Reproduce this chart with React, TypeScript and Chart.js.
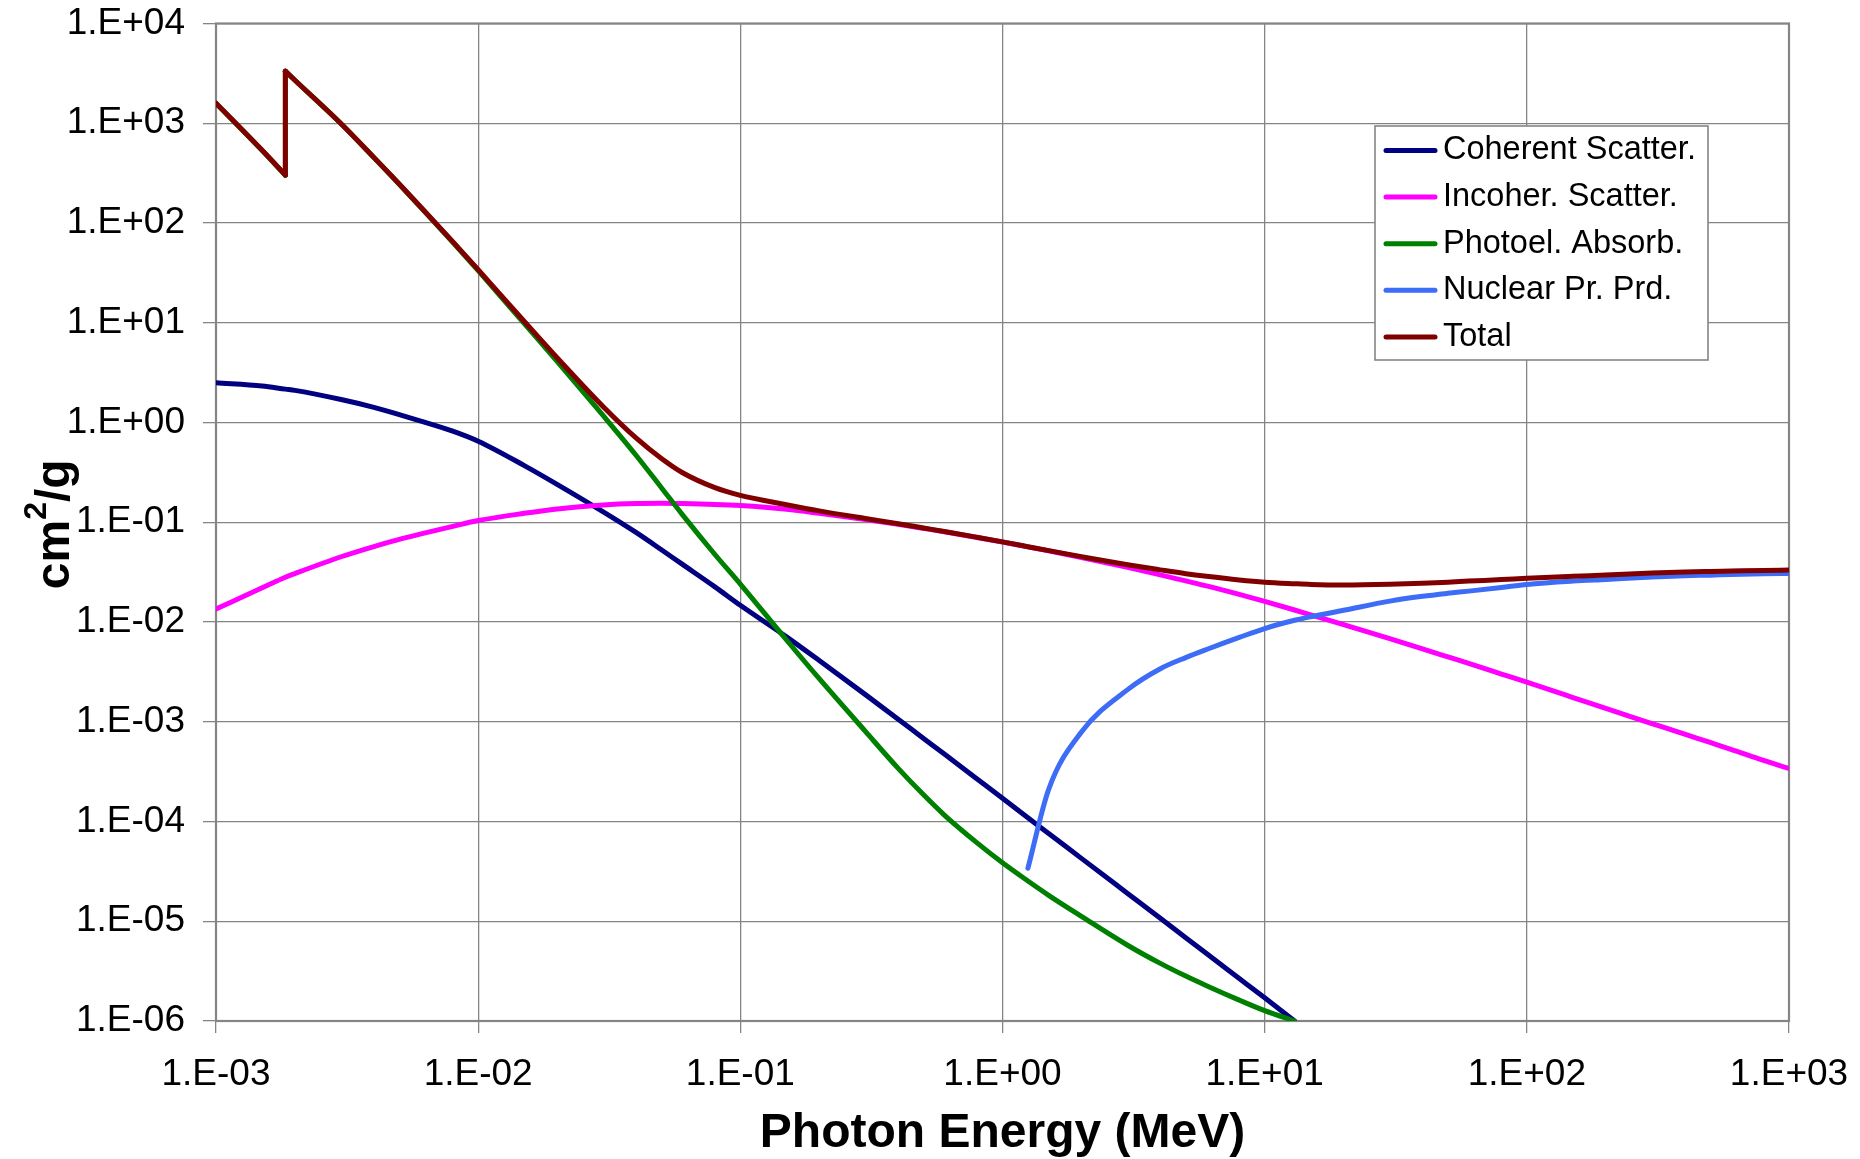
import React, { useEffect, useRef } from 'react';
import { Chart, registerables } from 'chart.js';

Chart.register(...registerables);

// Photon energy grid (MeV)
const energyMeV = [
  1e-3, 1.5e-3, 1.839e-3, 1.839e-3, 2e-3, 3e-3, 4e-3, 5e-3, 6e-3, 8e-3,
  1e-2, 1.5e-2, 2e-2, 3e-2, 4e-2, 5e-2, 6e-2, 8e-2,
  0.1, 0.15, 0.2, 0.3, 0.4, 0.5, 0.6, 0.8,
  1, 1.25, 1.5, 2, 3, 4, 5, 6, 8, 10, 13, 15, 20, 30, 40, 50, 60, 80,
  100, 150, 200, 300, 400, 500, 600, 800, 1000,
];

const coherentScatter = [
  2.5, 2.32, 2.16, 2.16, 2.1, 1.7, 1.42, 1.2, 1.04, 0.82,
  0.65, 0.37, 0.24, 0.127, 0.079, 0.053, 0.038, 0.0225,
  0.0147, 0.0071, 0.00411, 0.00187, 0.00106, 0.00068, 0.000474, 0.000267,
  1.71e-4, 1.09e-4, 7.6e-5, 4.27e-5, 1.9e-5, 1.07e-5, 6.83e-6, 4.74e-6, 2.67e-6, 1.71e-6, 1.0e-6,
  null, null, null, null, null, null, null, null,
  null, null, null, null, null, null, null, null, null,
];

const incoherScatter = [
  0.0135, 0.022, 0.0281, 0.0281, 0.0306, 0.0451, 0.0571, 0.0673, 0.0759, 0.0909,
  0.104, 0.123, 0.136, 0.149, 0.154, 0.155, 0.154, 0.151,
  0.147, 0.135, 0.123, 0.1065, 0.0953, 0.0868, 0.0802, 0.0704,
  0.0633, 0.0566, 0.0517, 0.0443, 0.0353, 0.0297, 0.0258, 0.023, 0.0189, 0.0161, 0.0132, 0.0118, 0.0094, 0.0068, 0.00538, 0.00447, 0.00384, 0.00301,
  0.00249, 0.00175, 0.00136, 0.00096, 0.00075, 0.00062, 0.00053, 0.00041, 0.00034,
];

const photoelAbsorb = [
  1587, 533, 301, 3328, 2698, 988, 453, 245, 146, 64.1,
  33.3, 9.8, 4.1, 1.17, 0.47, 0.222, 0.12, 0.0475,
  0.024, 0.0066, 0.0027, 8.0e-4, 3.41e-4, 1.85e-4, 1.16e-4, 6.1e-5,
  3.85e-5, 2.53e-5, 1.82e-5, 1.12e-5, 5.75e-6, 3.78e-6, 2.82e-6, 2.26e-6, 1.62e-6, 1.27e-6, 1.0e-6,
  null, null, null, null, null, null, null, null,
  null, null, null, null, null, null, null, null, null,
];

const nuclearPairProd = [
  null, null, null, null, null, null, null, null, null, null,
  null, null, null, null, null, null, null, null,
  null, null, null, null, null, null, null, null,
  null, 3.4e-5, 2.1e-4, 7.9e-4, 2.1e-3, 3.4e-3, 4.4e-3, 5.3e-3, 7.0e-3, 8.6e-3, 0.0104, 0.0113, 0.0131, 0.0162, 0.0181, 0.0194, 0.0204, 0.0222,
  0.0238, 0.0257, 0.0267, 0.0282, 0.0291, 0.0295, 0.0299, 0.0304, 0.0307,
];

const totalAtten = [
  1590, 535, 303, 3330, 2700, 990, 455, 246, 147, 65,
  34.1, 10.3, 4.46, 1.44, 0.7, 0.435, 0.315, 0.222,
  0.186, 0.15, 0.13, 0.109, 0.0967, 0.0876, 0.0808, 0.0707,
  0.0636, 0.0569, 0.0519, 0.0452, 0.0375, 0.0333, 0.0305, 0.0287, 0.0264, 0.0251, 0.0242, 0.0238, 0.0235, 0.0239, 0.0245, 0.0251, 0.0257, 0.0266,
  0.0274, 0.0287, 0.0296, 0.031, 0.0317, 0.0321, 0.0324, 0.0329, 0.0332,
];

const seriesLabels = ['Coherent Scatter.', 'Incoher. Scatter.', 'Photoel. Absorb.', 'Nuclear Pr. Prd.', 'Total'];
const seriesColors = ['#000080', '#FF00FF', '#008000', '#3D6CF7', '#800000'];
const seriesValues = [coherentScatter, incoherScatter, photoelAbsorb, nuclearPairProd, totalAtten];

const xTickValues = [1e-3, 1e-2, 1e-1, 1, 10, 100, 1000];
const xTickLabels = ['1.E-03', '1.E-02', '1.E-01', '1.E+00', '1.E+01', '1.E+02', '1.E+03'];
const yTickValues = [1e-6, 1e-5, 1e-4, 1e-3, 1e-2, 1e-1, 1, 10, 100, 1000, 10000];
const yTickLabels = ['1.E-06', '1.E-05', '1.E-04', '1.E-03', '1.E-02', '1.E-01', '1.E+00', '1.E+01', '1.E+02', '1.E+03', '1.E+04'];

const xTitle = 'Photon Energy (MeV)';
const yTitleParts = ['cm', '2', '/g'];

const FONT = "'Liberation Sans', Arial, sans-serif";
const GRID = '#858585';

// Splits a series at vertical jumps (absorption edge) so that smooth pieces stay smooth
function buildPieces(si: number) {
  const pts: { x: number; y: number }[] = [];
  energyMeV.forEach((e, i) => {
    const v = seriesValues[si][i];
    if (v === null || v === undefined) return;
    const prev = pts[pts.length - 1];
    if (prev && prev.x === e && prev.y === v) return;
    pts.push({ x: e, y: v as number });
  });
  const pieces: { pts: { x: number; y: number }[]; smooth: boolean }[] = [];
  let cur = [pts[0]];
  for (let i = 1; i < pts.length; i++) {
    if (pts[i].x === pts[i - 1].x) {
      pieces.push({ pts: cur, smooth: true });
      pieces.push({ pts: [pts[i - 1], pts[i]], smooth: false });
      cur = [pts[i]];
    } else {
      cur.push(pts[i]);
    }
  }
  pieces.push({ pts: cur, smooth: true });
  return pieces;
}

const frameAndLegend = {
  id: 'frameAndLegend',
  beforeDatasetsDraw(chart: any) {
    const { ctx, chartArea: a } = chart;
    ctx.save();
    ctx.strokeStyle = GRID;
    ctx.lineWidth = 2.2;
    ctx.strokeRect(a.left, a.top, a.right - a.left, a.bottom - a.top);
    ctx.restore();
  },
  afterDatasetsDraw(chart: any) {
    const { ctx, chartArea: a } = chart;
    const bx = a.right - 414;
    const by = a.top + 102.5;
    const bw = 333;
    const bh = 234;
    ctx.save();
    ctx.fillStyle = '#ffffff';
    ctx.fillRect(bx, by, bw, bh);
    ctx.strokeStyle = GRID;
    ctx.lineWidth = 1.6;
    ctx.strokeRect(bx, by, bw, bh);
    ctx.font = `32.5px ${FONT}`;
    ctx.textBaseline = 'middle';
    ctx.textAlign = 'left';
    seriesLabels.forEach((label, i) => {
      const cy = by + 24.5 + i * 46.6;
      ctx.strokeStyle = seriesColors[i];
      ctx.lineWidth = 5;
      ctx.lineCap = 'round';
      ctx.beginPath();
      ctx.moveTo(bx + 11, cy);
      ctx.lineTo(bx + 60, cy);
      ctx.stroke();
      ctx.fillStyle = '#000';
      ctx.fillText(label, bx + 68, cy);
    });
    ctx.restore();

    // Y axis title with a true superscript
    ctx.save();
    const cyT = (a.top + a.bottom) / 2 + 2;
    ctx.translate(69, cyT);
    ctx.rotate(-Math.PI / 2);
    ctx.fillStyle = '#000';
    ctx.textBaseline = 'alphabetic';
    ctx.textAlign = 'left';
    const big = `bold 48px ${FONT}`;
    const small = `bold 32px ${FONT}`;
    ctx.font = big;
    const w1 = ctx.measureText(yTitleParts[0]).width;
    const w3 = ctx.measureText(yTitleParts[2]).width;
    ctx.font = small;
    const w2 = ctx.measureText(yTitleParts[1]).width;
    let x0 = -(w1 + w2 + w3) / 2;
    ctx.font = big;
    ctx.fillText(yTitleParts[0], x0, 0);
    x0 += w1;
    ctx.font = small;
    ctx.fillText(yTitleParts[1], x0, -23);
    x0 += w2;
    ctx.font = big;
    ctx.fillText(yTitleParts[2], x0, 0);
    ctx.restore();
  },
};

export default function App() {
  const ref = useRef<HTMLCanvasElement | null>(null);

  useEffect(() => {
    if (!ref.current) return;
    const datasets: any[] = [];
    seriesLabels.forEach((label, si) => {
      buildPieces(si).forEach((piece) => {
        datasets.push({
          label,
          data: piece.pts,
          borderColor: seriesColors[si],
          backgroundColor: seriesColors[si],
          borderWidth: 5,
          pointRadius: 0,
          pointHoverRadius: 0,
          tension: 0,
          cubicInterpolationMode: piece.smooth ? 'monotone' : 'default',
          borderJoinStyle: 'round',
          borderCapStyle: 'round',
          fill: false,
          order: seriesLabels.length - 1 - si,
        });
      });
    });

    const chart = new Chart(ref.current, {
      type: 'line',
      data: { datasets },
      plugins: [frameAndLegend],
      options: {
        responsive: false,
        maintainAspectRatio: false,
        devicePixelRatio: 1,
        animation: false,
        events: [],
        layout: { padding: { top: 23.5, right: 71, bottom: 0, left: 0 } },
        plugins: {
          legend: { display: false },
          tooltip: { enabled: false },
          title: { display: false },
        },
        scales: {
          x: {
            type: 'logarithmic',
            min: 1e-3,
            max: 1e3,
            afterBuildTicks: (s: any) => {
              s.ticks = xTickValues.map((v) => ({ value: v }));
            },
            afterFit: (s: any) => {
              s.height = 138;
              s.paddingLeft = 0;
              s.paddingRight = 0;
            },
            ticks: {
              autoSkip: false,
              maxRotation: 0,
              minRotation: 0,
              padding: 20,
              color: '#000',
              font: { family: FONT, size: 37 },
              callback: (_v: any, i: number) => xTickLabels[i],
            },
            grid: { color: GRID, lineWidth: 1.3, drawTicks: true, tickLength: 12, tickColor: GRID },
            border: { display: false },
            title: {
              display: true,
              text: xTitle,
              color: '#000',
              font: { family: FONT, size: 48, weight: 'bold', lineHeight: 1.05 },
              padding: { top: 0, bottom: 0 },
            },
          },
          y: {
            type: 'logarithmic',
            min: 1e-6,
            max: 1e4,
            afterBuildTicks: (s: any) => {
              s.ticks = yTickValues.map((v) => ({ value: v }));
            },
            afterFit: (s: any) => {
              s.width = 216;
              s.paddingTop = 0;
              s.paddingBottom = 0;
            },
            ticks: {
              autoSkip: false,
              padding: 18,
              color: '#000',
              font: { family: FONT, size: 37 },
              callback: (_v: any, i: number) => yTickLabels[i],
            },
            grid: { color: GRID, lineWidth: 1.3, drawTicks: true, tickLength: 13, tickColor: GRID },
            border: { display: false },
            title: { display: false },
          },
        },
      } as any,
    });
    return () => chart.destroy();
  }, []);

  return (
    <div style={{ position: 'fixed', left: 0, top: 0, width: 1860, height: 1159, background: '#ffffff' }}>
      <canvas ref={ref} width={1860} height={1159} style={{ display: 'block', width: 1860, height: 1159 }} />
    </div>
  );
}
